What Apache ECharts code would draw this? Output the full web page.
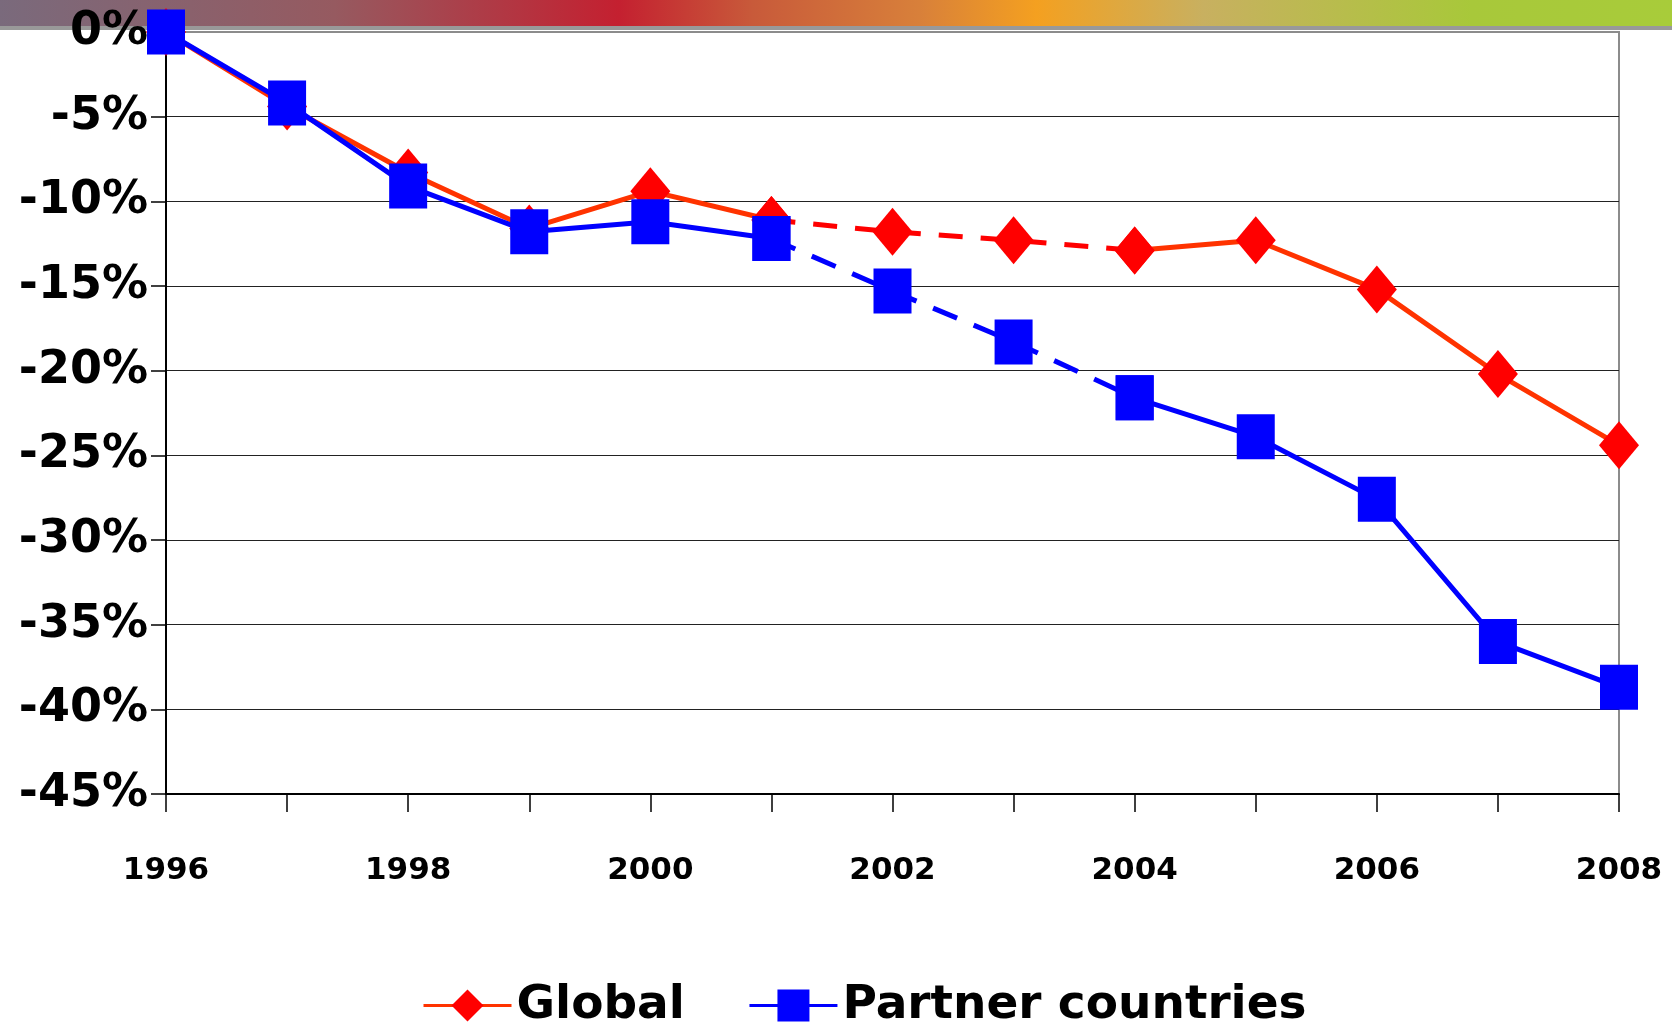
<!DOCTYPE html>
<html>
<head>
<meta charset="utf-8">
<script src="https://cdn.jsdelivr.net/npm/echarts@6/dist/echarts.min.js"></script>
<style>
html,body{margin:0;padding:0;background:#fff;}
#chart{width:1672px;height:1024px;}
</style>
</head>
<body>
<div id="chart"></div>
<script>
var years = ['1996','1997','1998','1999','2000','2001','2002','2003','2004','2005','2006','2007','2008'];
var globalValues = [0, -4.4, -8.3, -11.6, -9.4, -11.1, -11.8, -12.3, -12.9, -12.3, -15.2, -20.2, -24.4];
var partnerValues = [0, -4.2, -9.1, -11.8, -11.2, -12.2, -15.3, -18.3, -21.6, -23.9, -27.6, -36.0, -38.7];
var dashedFrom = 5; // 2001
var dashedTo = 8;   // 2004

function solidPart(arr){ return arr.map(function(v,i){ return (i>dashedFrom && i<dashedTo) ? null : v; }); }
function dashedPart(arr){ return arr.map(function(v,i){ return (i>=dashedFrom && i<=dashedTo) ? v : null; }); }

var FONT = 'DejaVu Sans';
var RED_LINE = '#FF3300', RED = '#FF0000', BLUE = '#0000FF';
var diamondSize = [40, 48], squareSize = [38, 45];

var chart = echarts.init(document.getElementById('chart'), null, {renderer:'canvas'});
chart.setOption({
  animation: false,
  backgroundColor: '#fff',
  grid: {left: 166, right: 53, top: 32, bottom: 230, show: true, borderColor: '#8c8c8c', borderWidth: 2, backgroundColor: 'transparent'},
  graphic: [
    {type:'rect', z: 0, silent: true, shape:{x:0, y:0, width:1672, height:26},
     style:{fill: new echarts.graphic.LinearGradient(0,0,1,0,[
       {offset:0, color:'#7a6a7c'},
       {offset:0.2, color:'#965a60'},
       {offset:0.37, color:'#c42030'},
       {offset:0.45, color:'#c85a3a'},
       {offset:0.55, color:'#d8803a'},
       {offset:0.62, color:'#f4a020'},
       {offset:0.72, color:'#c8b060'},
       {offset:0.88, color:'#a8c83a'},
       {offset:1, color:'#a8cc3a'}])}},
    {type:'rect', z: 0, silent: true, shape:{x:0, y:26, width:1672, height:4}, style:{fill:'#999999'}}
  ],
  legend: {
    data: ['Global', 'Partner countries'],
    left: 417, top: 977,
    itemWidth: 88, itemHeight: 40, itemGap: 63,
    lineStyle: {width: 3},
    textStyle: {fontFamily: FONT, fontWeight: 'bold', fontSize: 47, color: '#000'}
  },
  xAxis: {
    type: 'category', data: years, boundaryGap: false,
    axisLine: {show: true, onZero: false, lineStyle: {color: '#000', width: 2}},
    axisTick: {show: true, interval: 0, length: 18, lineStyle: {color: '#000', width: 1.5}},
    axisLabel: {interval: 1, margin: 61, fontFamily: FONT, fontWeight: 'bold', fontSize: 31, color: '#000'},
    splitLine: {show: false}
  },
  yAxis: {
    type: 'value', min: -45, max: 0, interval: 5,
    axisLine: {show: true, lineStyle: {color: '#000', width: 2}},
    axisTick: {show: true, length: 15, lineStyle: {color: '#000', width: 1.5}},
    axisLabel: {margin: 18, fontFamily: FONT, fontWeight: 'bold', fontSize: 46, color: '#000',
      formatter: function(v){ return v + '%'; }},
    splitLine: {show: true, showMaxLine: false, lineStyle: {color: '#222', width: 1.2}}
  },
  series: [
    {name: 'Global', type: 'line', z: 3, clip: false, data: solidPart(globalValues),
     symbol: 'diamond', symbolSize: diamondSize, showAllSymbol: true,
     lineStyle: {color: RED_LINE, width: 5}, itemStyle: {color: RED, borderWidth: 0}},
    {name: 'Global (dashed)', type: 'line', z: 3, clip: false, data: dashedPart(globalValues),
     symbol: 'diamond', symbolSize: diamondSize, showAllSymbol: true,
     lineStyle: {color: RED, width: 5, type: [24, 18]}, itemStyle: {color: RED, borderWidth: 0}},
    {name: 'Partner countries', type: 'line', z: 4, clip: false, data: solidPart(partnerValues),
     symbol: 'rect', symbolSize: squareSize, showAllSymbol: true,
     lineStyle: {color: BLUE, width: 5}, itemStyle: {color: BLUE, borderWidth: 0}},
    {name: 'Partner (dashed)', type: 'line', z: 4, clip: false, data: dashedPart(partnerValues),
     symbol: 'rect', symbolSize: squareSize, showAllSymbol: true,
     lineStyle: {color: BLUE, width: 5, type: [26, 18]}, itemStyle: {color: BLUE, borderWidth: 0}}
  ]
});
</script>
</body>
</html>
